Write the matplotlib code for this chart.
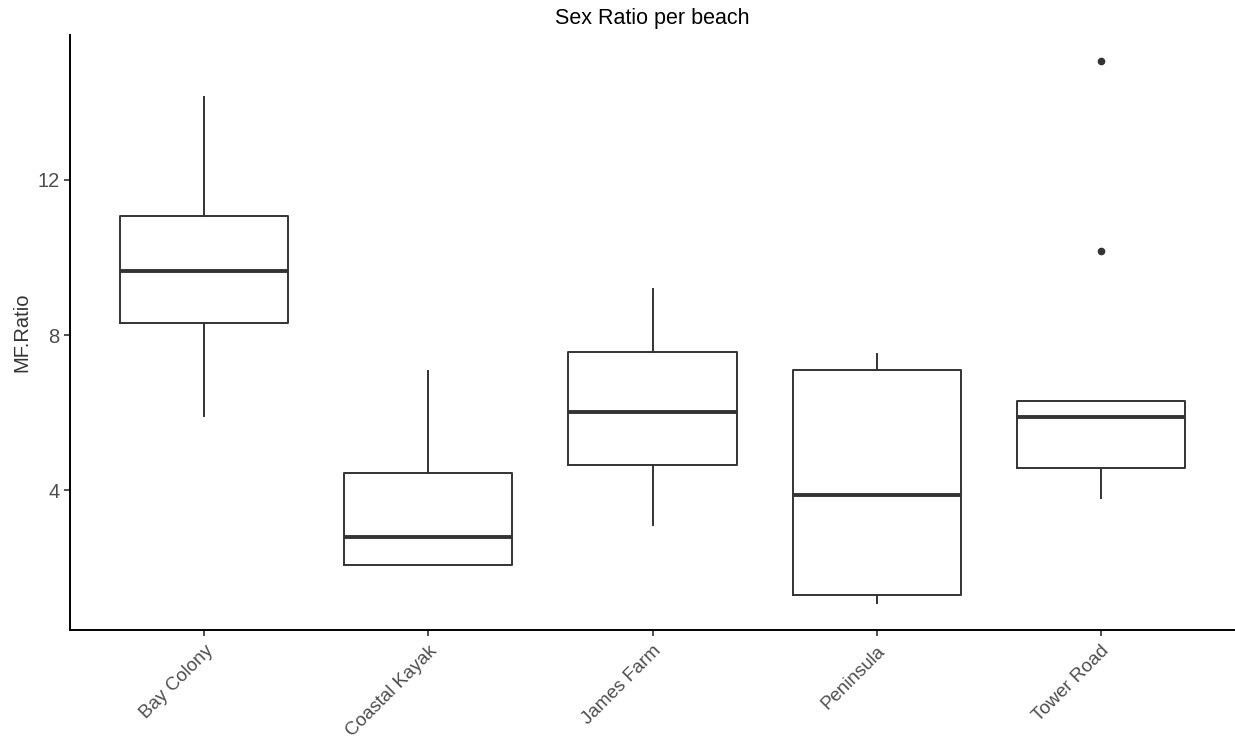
import matplotlib.pyplot as plt

plt.rcParams['font.family'] = ['Liberation Sans', 'DejaVu Sans']

# box summaries per beach
beaches = ["Bay Colony", "Coastal Kayak", "James Farm", "Peninsula", "Tower Road"]
whisker_low = [5.91, 2.06, 3.10, 1.08, 3.79]
q1 = [8.31, 2.06, 4.65, 1.29, 4.57]
median = [9.65, 2.79, 6.01, 3.87, 5.88]
q3 = [11.07, 4.44, 7.56, 7.10, 6.30]
whisker_high = [14.14, 7.07, 9.19, 7.51, 6.30]
outliers = [[], [], [], [], [10.17, 15.07]]

stats = []
for i, name in enumerate(beaches):
    stats.append({
        "label": name,
        "whislo": whisker_low[i],
        "q1": q1[i],
        "med": median[i],
        "q3": q3[i],
        "whishi": whisker_high[i],
        "fliers": outliers[i],
    })

fig = plt.figure(figsize=(12.35, 7.44), dpi=100)
ax = fig.add_axes([70 / 1235, 1 - 630 / 744, 1165 / 1235, 595 / 744])

line_col = "#333333"
ax.bxp(stats, positions=range(len(beaches)), widths=0.75, showcaps=False,
       boxprops=dict(color=line_col, linewidth=1.4),
       whiskerprops=dict(color=line_col, linewidth=1.4),
       medianprops=dict(color=line_col, linewidth=2.8),
       flierprops=dict(marker="o", markersize=4.5, markerfacecolor=line_col,
                       markeredgecolor=line_col))

ax.set_xlim(-0.6, 4.6)
ax.set_ylim(0.39, 15.74)
ax.set_yticks([4, 8, 12])
ax.set_xticks(range(len(beaches)))
ax.set_xticklabels(beaches, rotation=45, ha="right", va="top",
                   rotation_mode="anchor")

ax.spines["top"].set_visible(False)
ax.spines["right"].set_visible(False)
for s in ("left", "bottom"):
    ax.spines[s].set_linewidth(1.4)
    ax.spines[s].set_color("black")

ax.tick_params(axis="both", colors="#333333", labelcolor="#4D4D4D",
               labelsize=14.5, length=4, width=1.2)
ax.tick_params(axis="x", labelsize=13.5, pad=5)
ax.set_ylabel("MF.Ratio", fontsize=14.5, color="#333333", labelpad=4)
ax.set_title("Sex Ratio per beach", fontsize=15.5, pad=8)

fig.savefig("out.png", dpi=100)
